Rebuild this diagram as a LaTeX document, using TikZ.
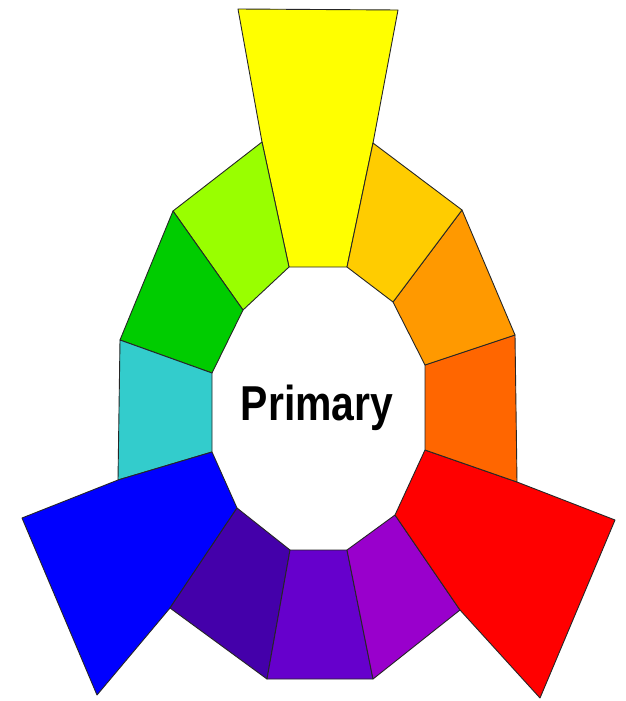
\documentclass[tikz,border=0pt]{standalone}
\usepackage{fontspec}
\setmainfont{Liberation Sans}
\begin{document}
\begin{tikzpicture}[x=1pt,y=-1pt,
  seg/.style={draw=black!85,line width=0.9pt,line join=round}]
\useasboundingbox (0,0) rectangle (625,701);
% coordinates (pixel space, y down)
\coordinate (Y1) at (238,9);
\coordinate (Y2) at (398,10);
\coordinate (O0) at (373,143);
\coordinate (L0) at (262,142);
\coordinate (I1) at (289,267);
\coordinate (I2) at (347,267);
\coordinate (L1) at (173,211);
\coordinate (I3) at (243,310);
\coordinate (L2) at (120,340);
\coordinate (I4) at (212,373);
\coordinate (L3) at (118,480);
\coordinate (I5) at (212,452);
\coordinate (B1) at (22,518);
\coordinate (B2) at (97,695);
\coordinate (B3) at (170,608);
\coordinate (I6) at (237,508);
\coordinate (I7) at (290,550);
\coordinate (O7) at (267,679);
\coordinate (I8) at (347,550);
\coordinate (O8) at (373,679);
\coordinate (I9) at (395,515);
\coordinate (R3) at (460,610);
\coordinate (R2) at (540,698);
\coordinate (R1) at (615,520);
\coordinate (R0) at (517,482);
\coordinate (I10) at (425,450);
\coordinate (I11) at (425,365);
\coordinate (O2) at (515,335);
\coordinate (O1) at (462,210);
\coordinate (I12) at (393,302);
% segments
\filldraw[seg,fill={rgb,255:red,255;green,255;blue,0}] (Y1)--(Y2)--(O0)--(I2)--(I1)--(L0)--cycle;
\filldraw[seg,fill={rgb,255:red,153;green,255;blue,0}] (L0)--(L1)--(I3)--(I1)--cycle;
\filldraw[seg,fill={rgb,255:red,0;green,204;blue,0}] (L1)--(L2)--(I4)--(I3)--cycle;
\filldraw[seg,fill={rgb,255:red,51;green,204;blue,204}] (L2)--(L3)--(I5)--(I4)--cycle;
\filldraw[seg,fill={rgb,255:red,0;green,0;blue,255}] (L3)--(B1)--(B2)--(B3)--(I6)--(I5)--cycle;
\filldraw[seg,fill={rgb,255:red,68;green,0;blue,170}] (I6)--(B3)--(O7)--(I7)--cycle;
\filldraw[seg,fill={rgb,255:red,102;green,0;blue,204}] (I7)--(O7)--(O8)--(I8)--cycle;
\filldraw[seg,fill={rgb,255:red,153;green,0;blue,204}] (I8)--(O8)--(R3)--(I9)--cycle;
\filldraw[seg,fill={rgb,255:red,255;green,0;blue,0}] (I9)--(R3)--(R2)--(R1)--(R0)--(I10)--cycle;
\filldraw[seg,fill={rgb,255:red,255;green,102;blue,0}] (I10)--(R0)--(O2)--(I11)--cycle;
\filldraw[seg,fill={rgb,255:red,255;green,153;blue,0}] (I11)--(O2)--(O1)--(I12)--cycle;
\filldraw[seg,fill={rgb,255:red,255;green,204;blue,0}] (I12)--(O1)--(O0)--(I2)--cycle;
\node[anchor=base,inner sep=0pt] (label) at (317,420)
  {\scalebox{0.835}[1]{\fontsize{49}{49}\selectfont\bfseries Primary}};
\end{tikzpicture}
\end{document}
